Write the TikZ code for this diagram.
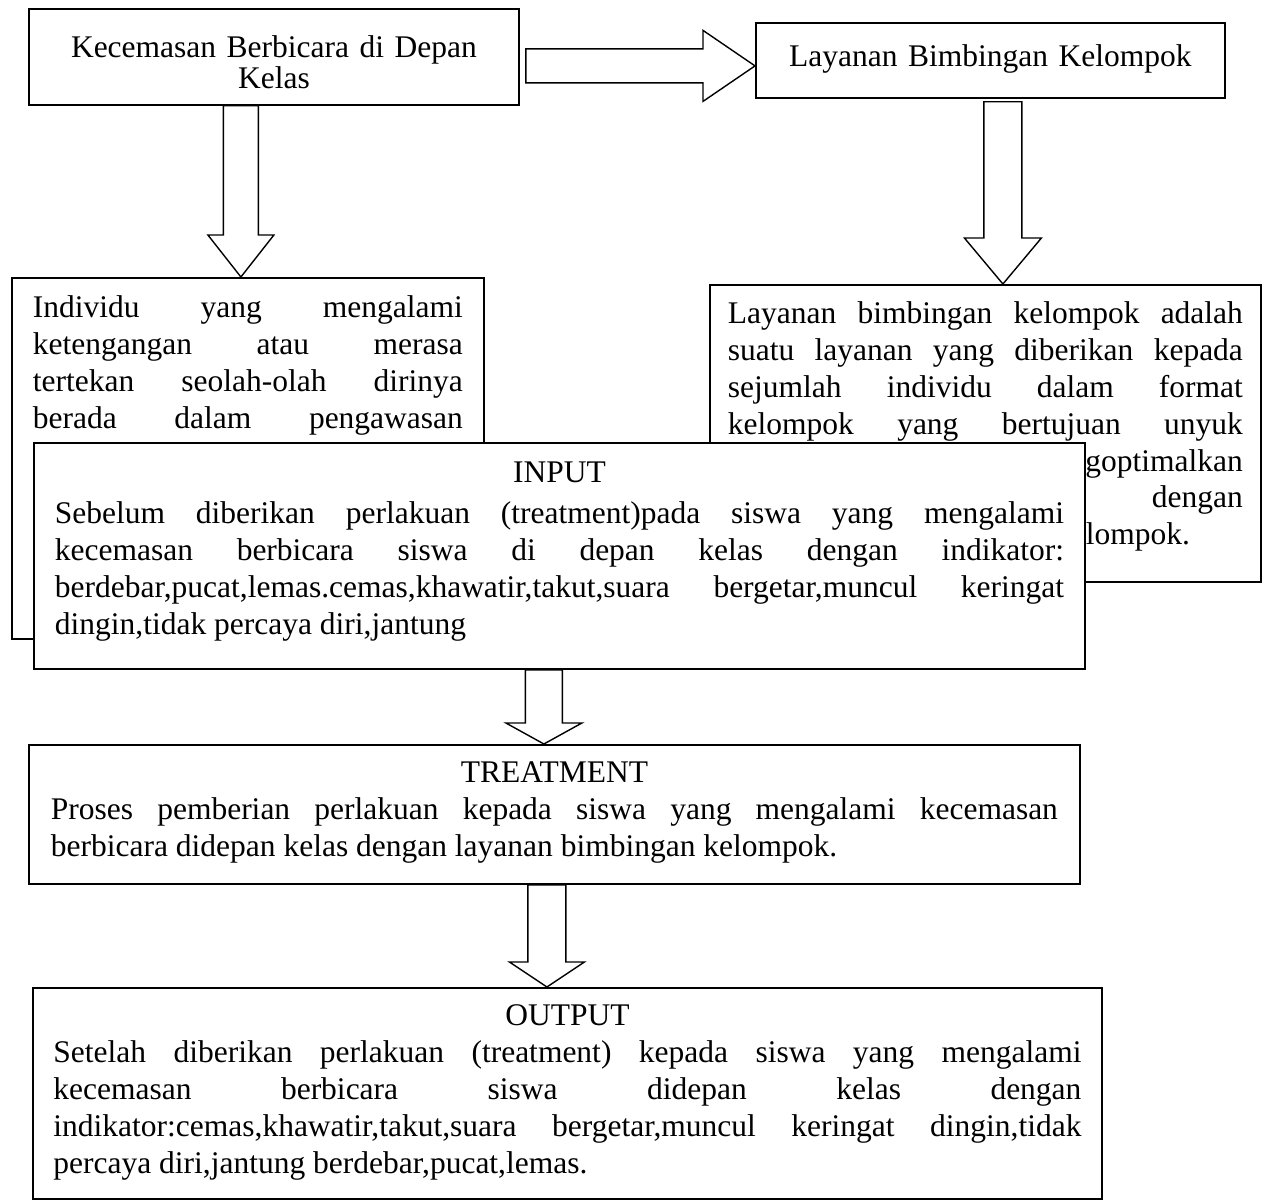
\documentclass[tikz,border=0pt]{standalone}
\usepackage{fontspec}
\setmainfont{Liberation Serif}
\usetikzlibrary{calc}
\hyphenpenalty=10000 \exhyphenpenalty=10000 \tolerance=10000 \frenchspacing
% hollow block arrows: start, tip, shaft half width, head half width, head length
\newcommand{\fatdown}[5]{\draw[fatarrow] ($(#1)+(-#3,0)$) -- ($(#2)+(-#3,-#5)$) -- ($(#2)+(-#4,-#5)$) -- (#2) -- ($(#2)+(#4,-#5)$) -- ($(#2)+(#3,-#5)$) -- ($(#1)+(#3,0)$) -- cycle}
\newcommand{\fatright}[5]{\draw[fatarrow] ($(#1)+(0,-#3)$) -- ($(#2)+(-#5,-#3)$) -- ($(#2)+(-#5,-#4)$) -- (#2) -- ($(#2)+(-#5,#4)$) -- ($(#2)+(-#5,#3)$) -- ($(#1)+(0,#3)$) -- cycle}
% centred title line inside a justified box
\newcommand{\boxtitle}[1]{\hspace*{\fill}#1\hspace*{\fill}\linebreak}
\begin{document}
\begin{tikzpicture}[x=0.5pt,y=-0.5pt,
	every node/.style={draw,fill=white,anchor=north west,inner ysep=0pt,line width=0.9pt,align=justify,font=\fontsize{15.75}{18.4}\selectfont},
	fatarrow/.style={draw,fill=white,line width=0.7pt}]
				\useasboundingbox (0,0) rectangle (1272,1202);
				% top row
				\node[align=center,font=\fontsize{15.75}{13}\selectfont,text width=235pt,inner xsep=5pt,text height=24.5pt,text depth=23.5pt] (cemas) at (28,8) {Kecemasan Berbicara di Depan\\Kelas};
				\node[align=center,text width=224.5pt,inner xsep=5pt,text height=22pt,text depth=15.5pt] (layanan) at (755,22) {Layanan Bimbingan Kelompok};
				% middle row (partly hidden by INPUT)
				\node[text width=215pt,inner xsep=10.5pt,text height=20pt,text depth=160.5pt] (individu) at (11,277) {Individu yang mengalami\linebreak ketengangan atau merasa\linebreak tertekan seolah-olah dirinya\linebreak berada dalam pengawasan\linebreak\null};
				\node[text width=257.5pt,inner xsep=9pt,text height=19.5pt,text depth=129pt] (definisi) at (709,284) {Layanan bimbingan kelompok adalah\linebreak suatu layanan yang diberikan kepada\linebreak sejumlah individu dalam format\linebreak kelompok yang bertujuan unyuk\linebreak \hspace*{\fill}goptimalkan\linebreak \hspace*{\fill}dengan\linebreak \hspace*{179pt}lompok.};
				\node[text width=504.5pt,inner xsep=10.5pt,text height=20pt,text depth=93pt] (input) at (33,442) {\hspace*{\fill}INPUT\hspace*{\fill}\vspace{2pt}\linebreak Sebelum diberikan perlakuan (treatment)pada siswa yang mengalami\linebreak kecemasan berbicara siswa di depan kelas dengan indikator:\linebreak berdebar,pucat,lemas.cemas,khawatir,takut,suara bergetar,muncul keringat\linebreak dingin,tidak percaya diri,jantung};
				% lower column
				\node[text width=503.5pt,inner xsep=11pt,text height=19pt,text depth=50.5pt] (treat) at (28,744) {\boxtitle{TREATMENT}Proses pemberian perlakuan kepada siswa yang mengalami kecemasan\linebreak berbicara didepan kelas dengan layanan bimbingan kelompok.};
				\node[text width=514pt,inner xsep=10.25pt,text height=19pt,text depth=86.5pt] (output) at (32,987) {\boxtitle{OUTPUT}Setelah diberikan perlakuan (treatment) kepada siswa yang mengalami\linebreak kecemasan berbicara siswa didepan kelas dengan\linebreak indikator:cemas,khawatir,takut,suara bergetar,muncul keringat dingin,tidak\linebreak percaya diri,jantung berdebar,pucat,lemas.};
				% arrow ends
				\coordinate (h1) at ($(cemas.east)+(6,9)$);
				\coordinate (h2) at (layanan.west |- h1);
				\coordinate (v1) at ($(cemas.south)+(-33,0)$);
				\coordinate (v2) at (individu.north -| v1);
				\coordinate (v3) at ($(layanan.south)+(12.5,3)$);
				\coordinate (v4) at (definisi.north -| v3);
				\coordinate (v5) at ($(input.south)+(-15.5,0)$);
				\coordinate (v6) at (treat.north -| v5);
				\coordinate (v7) at ($(treat.south)+(-7.5,0)$);
				\coordinate (v8) at (output.north -| v7);
				\fatright{h1}{h2}{17}{35.5}{52};
				\foreach \s/\t/\w/\h/\l in {v1/v2/17.5/33/42,v3/v4/19/38.5/46,v5/v6/18.5/38/21,v7/v8/19/37.5/25}
					\fatdown{\s}{\t}{\w}{\h}{\l};
			\end{tikzpicture}
\end{document}
